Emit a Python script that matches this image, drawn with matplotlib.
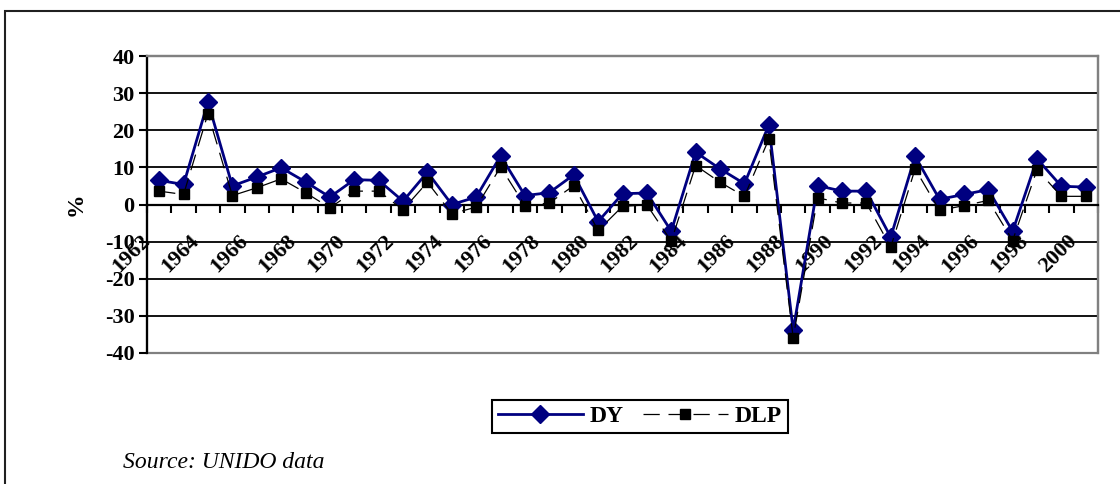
import matplotlib.pyplot as plt
import matplotlib.transforms as mtransforms
from matplotlib.patches import Rectangle
import numpy as np

# anni e variazioni percentuali
anni = list(range(1962, 2001))
dy = [6.5, 5.4, 27.6, 5.0, 7.4, 9.9, 6.1, 2.0, 6.7, 6.5,
      0.9, 8.7, 0.0, 2.0, 13.1, 2.4, 3.2, 8.0, -4.6, 2.9,
      3.1, -7.2, 14.1, 9.6, 5.6, 21.4, -33.9, 5.1, 3.6, 3.6,
      -8.8, 13.0, 1.4, 2.7, 4.0, -7.2, 12.3, 4.9, 4.7]
dlp = [3.6, 2.7, 24.5, 2.4, 4.5, 6.9, 3.2, -0.9, 3.6, 3.6,
       -1.4, 6.0, -2.5, -0.7, 10.1, -0.3, 0.4, 5.1, -7.0, -0.5,
       -0.1, -9.9, 10.5, 6.0, 2.2, 17.6, -35.9, 1.8, 0.4, 0.4,
       -11.5, 9.6, -1.6, -0.3, 1.1, -9.7, 9.4, 2.2, 2.2]
etichette = [str(a) if (a - 1962) % 2 == 0 else '' for a in anni]

plt.rcParams['font.family'] = ['Liberation Serif', 'DejaVu Serif']
plt.rcParams['font.weight'] = 'bold'
plt.rcParams['axes.unicode_minus'] = False

W, H = 1120, 484
fig = plt.figure(figsize=(W / 100, H / 100), dpi=100)
ax = fig.add_axes([147 / W, 1 - 353 / H, (1098 - 147) / W, (353 - 56) / H])

x = np.arange(len(anni))
ax.plot(x, dy, color='#000080', lw=2.0, marker='D', ms=9, mec='#000080',
        mfc='#000080', label='DY', zorder=3)
ax.plot(x, dlp, color='black', lw=0.9, ls=(0, (13, 7)), marker='s', ms=7,
        mfc='black', mec='black', label='DLP', zorder=4)

ax.set_xlim(-0.5, len(anni) - 0.5)
ax.set_ylim(-40, 40)
ax.set_yticks(range(-40, 41, 10))
for v in range(-30, 31, 10):
    ax.axhline(v, color='black', lw=1.3, zorder=1)

# bordo area del grafico
for s in ['top', 'right']:
    ax.spines[s].set_color('#808080')
    ax.spines[s].set_linewidth(1.6)
ax.add_patch(Rectangle((0, 0), 1, 1, transform=ax.transAxes, fill=False,
                       ec='#808080', lw=1.6, zorder=0.5, clip_on=False))
ax.spines['left'].set_linewidth(1.6)
ax.spines['bottom'].set_position(('data', 0))
ax.spines['bottom'].set_linewidth(1.6)

ax.tick_params(axis='y', direction='out', length=6, width=1.5, labelsize=16, pad=3)
ax.set_xticks(x)
ax.set_xticks(np.arange(-0.5, len(anni), 1), minor=True)
ax.set_xticklabels(etichette, rotation=45, ha='right', rotation_mode='anchor',
                   fontsize=16)
ax.tick_params(axis='x', which='major', length=0, pad=19)
ax.tick_params(axis='x', which='minor', direction='out', length=6, width=1.5)
off = mtransforms.ScaledTranslation(-19 / 100, 0, fig.dpi_scale_trans)
for lab in ax.get_xticklabels():
    lab.set_transform(lab.get_transform() + off)

ax.set_ylabel('%', fontsize=17, fontweight='bold', labelpad=13)

fig.legend(loc='center', bbox_to_anchor=(640 / W, 1 - 416.5 / H), ncol=2,
           prop={'size': 17, 'weight': 'bold'}, frameon=True, fancybox=False,
           edgecolor='black', handlelength=3.6, handletextpad=0.3,
           columnspacing=0.8, borderpad=0.25, framealpha=1)
fig.legends[0].get_frame().set_linewidth(1.5)

fig.text(123 / W, 1 - 462 / H, 'Source: UNIDO data', fontsize=17,
         style='italic', weight='normal', va='center', ha='left')

# cornice esterna
fig.patches.append(Rectangle((5 / W, -0.1), 1.2, 1 - 11 / H + 0.1,
                             transform=fig.transFigure, fill=False,
                             ec='#202020', lw=1.5, clip_on=False))

fig.savefig('out.png', dpi=100)
